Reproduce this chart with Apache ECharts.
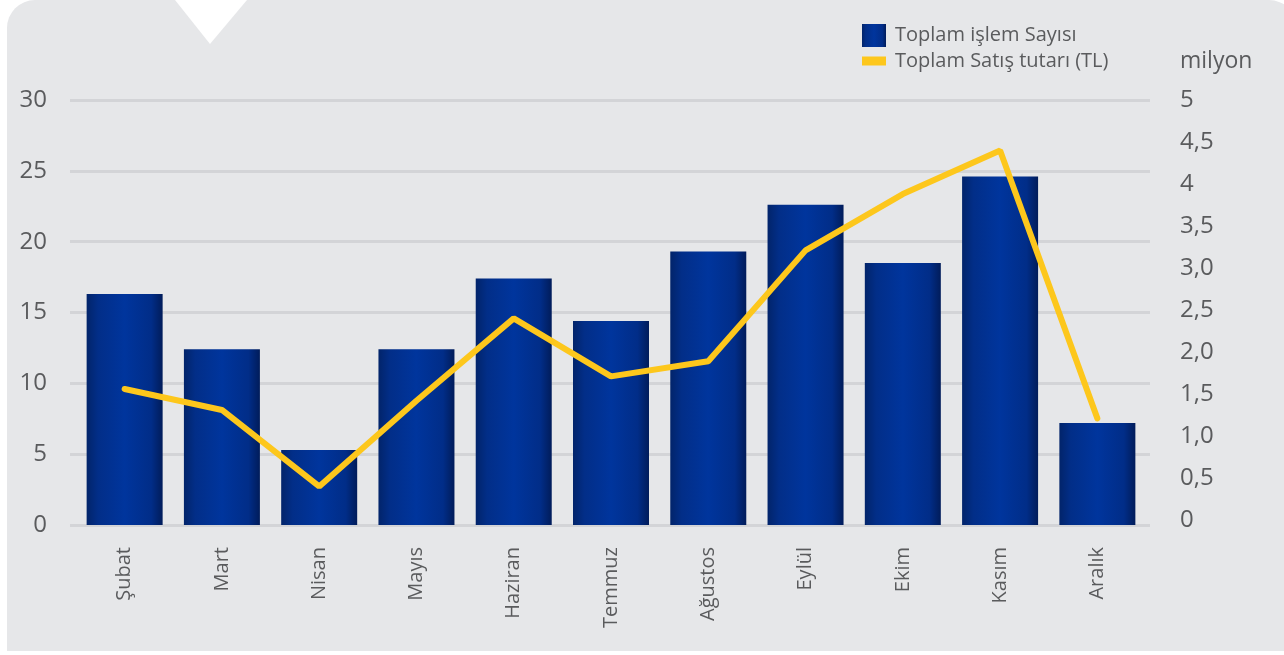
<!DOCTYPE html>
<html>
<head>
<meta charset="utf-8">
<script src="https://cdn.jsdelivr.net/npm/echarts@6/dist/echarts.min.js"></script>
<style>
  html, body { margin: 0; padding: 0; background: #ffffff; }
  #chart { width: 1284px; height: 655px; }
</style>
</head>
<body>
<div id="chart"></div>
<script>
// Monthly figures
const months = ['Şubat', 'Mart', 'Nisan', 'Mayıs', 'Haziran', 'Temmuz', 'Ağustos', 'Eylül', 'Ekim', 'Kasım', 'Aralık'];
const islemSayisi = [16.3, 12.4, 5.3, 12.4, 17.4, 14.4, 19.3, 22.6, 18.5, 24.6, 7.2];
const satisTutari = [1.56, 1.31, 0.40, 1.42, 2.40, 1.71, 1.89, 3.21, 3.88, 4.40, 1.21];
const leftTickLabels = ['0', '5', '10', '15', '20', '25', '30'];
const rightTickLabels = ['0', '0,5', '1,0', '1,5', '2,0', '2,5', '3,0', '3,5', '4', '4,5', '5'];
const seriesNames = ['Toplam işlem Sayısı', 'Toplam Satış tutarı (TL)'];

const FONT = '"Open Sans", sans-serif';
const TEXT = '#5a5b5d';

const barFill = new echarts.graphic.LinearGradient(0, 0, 1, 0, [
  { offset: 0, color: '#02246a' },
  { offset: 0.15, color: '#022e88' },
  { offset: 0.5, color: '#00359d' },
  { offset: 0.85, color: '#012d88' },
  { offset: 1, color: '#011c5a' }
]);

const chart = echarts.init(document.getElementById('chart'), null, { renderer: 'canvas' });

chart.setOption({
  backgroundColor: '#ffffff',
  animation: false,
  textStyle: { fontFamily: FONT },
  graphic: [
    {
      type: 'rect', z: -10, silent: true,
      shape: { x: 7, y: 0, width: 1290, height: 651, r: [28, 28, 0, 0] },
      style: { fill: '#e6e7e9' }
    },
    {
      type: 'polygon', z: -9, silent: true,
      shape: { points: [[175, 0], [247, 0], [210, 44]] },
      style: { fill: '#ffffff' }
    }
  ],
  legend: [
    {
      data: [seriesNames[0]],
      left: 862, top: 24, padding: 0,
      itemWidth: 24, itemHeight: 23, icon: 'rect',
      textStyle: { color: TEXT, fontSize: 20, fontFamily: FONT, padding: [0, 0, 0, 4] }
    },
    {
      data: [seriesNames[1]],
      left: 862, top: 51, padding: 0,
      itemWidth: 24, itemHeight: 9, icon: 'rect',
      textStyle: { color: TEXT, fontSize: 20, fontFamily: FONT, padding: [0, 0, 0, 4] }
    }
  ],
  grid: [
    { left: 76, right: 138, top: 100, bottom: 130 },
    { left: 70, right: 134, top: 100, bottom: 130 },
    { left: 76, right: 138, top: 100, bottom: 135 }
  ],
  xAxis: [
    {
      gridIndex: 0, type: 'category', data: months,
      axisLine: { show: false }, axisTick: { show: false },
      axisLabel: { rotate: 90, margin: 22, color: TEXT, fontSize: 20, fontFamily: FONT }
    },
    { gridIndex: 1, type: 'category', data: months, show: false },
    { gridIndex: 2, type: 'category', data: months, show: false }
  ],
  yAxis: [
    {
      gridIndex: 0, type: 'value', min: 0, max: 30, interval: 5,
      axisLine: { show: false }, axisTick: { show: false }, splitLine: { show: false },
      axisLabel: {
        margin: 29, color: TEXT, fontSize: 24, fontFamily: FONT,
        formatter: v => leftTickLabels[Math.round(v / 5)]
      }
    },
    {
      gridIndex: 1, type: 'value', min: 0, max: 30, interval: 5,
      axisLine: { show: false }, axisTick: { show: false }, axisLabel: { show: false },
      splitLine: { show: true, lineStyle: { color: '#d3d4d7', width: 3 } }
    },
    {
      gridIndex: 2, type: 'value', position: 'right', min: 0, max: 5, interval: 0.5,
      name: 'milyon', nameLocation: 'end', nameGap: 27,
      nameTextStyle: { color: TEXT, fontSize: 23, fontFamily: FONT, align: 'left', padding: [0, 0, 0, 34] },
      axisLine: { show: false }, axisTick: { show: false }, splitLine: { show: false },
      axisLabel: {
        margin: 34, color: TEXT, fontSize: 24, fontFamily: FONT,
        formatter: v => rightTickLabels[Math.round(v / 0.5)]
      }
    }
  ],
  series: [
    {
      name: seriesNames[0], type: 'bar',
      xAxisIndex: 0, yAxisIndex: 0,
      data: islemSayisi, barWidth: 76,
      itemStyle: { color: barFill }
    },
    {
      name: seriesNames[1], type: 'line',
      xAxisIndex: 2, yAxisIndex: 2,
      data: satisTutari, showSymbol: false, symbol: 'none',
      itemStyle: { color: '#fdc71c' },
      lineStyle: { color: '#fdc71c', width: 6, cap: 'round' },
      z: 5
    }
  ]
});
</script>
</body>
</html>
